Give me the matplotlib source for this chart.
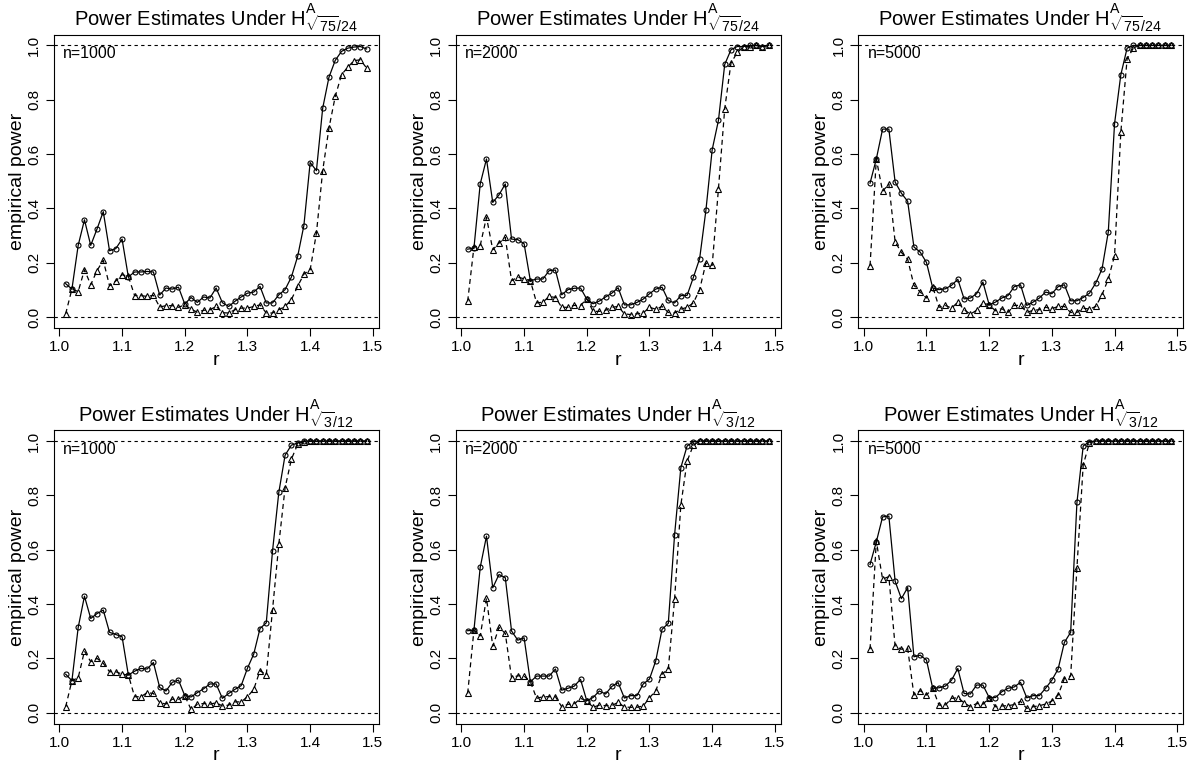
import numpy as np
import matplotlib
matplotlib.use("Agg")
import matplotlib.pyplot as plt

plt.rcParams['font.family'] = ['Liberation Sans', 'DejaVu Sans']
plt.rcParams['mathtext.fontset'] = 'custom'
plt.rcParams['mathtext.rm'] = 'Liberation Sans'
plt.rcParams['mathtext.it'] = 'Liberation Sans'

# data
r = [1.01, 1.02, 1.03, 1.04, 1.05, 1.06, 1.07, 1.08, 1.09, 1.10,
     1.11, 1.12, 1.13, 1.14, 1.15, 1.16, 1.17, 1.18, 1.19, 1.20,
     1.21, 1.22, 1.23, 1.24, 1.25, 1.26, 1.27, 1.28, 1.29, 1.30,
     1.31, 1.32, 1.33, 1.34, 1.35, 1.36, 1.37, 1.38, 1.39, 1.40,
     1.41, 1.42, 1.43, 1.44, 1.45, 1.46, 1.47, 1.48, 1.49]

top_circ_1000 = [0.123, 0.103, 0.264, 0.358, 0.264, 0.324, 0.388, 0.244, 0.252, 0.287,
                 0.148, 0.166, 0.166, 0.168, 0.166, 0.081, 0.107, 0.103, 0.110, 0.048,
                 0.072, 0.054, 0.074, 0.070, 0.107, 0.053, 0.039, 0.058, 0.074, 0.088,
                 0.092, 0.113, 0.052, 0.052, 0.082, 0.101, 0.147, 0.223, 0.337, 0.569,
                 0.539, 0.769, 0.883, 0.945, 0.978, 0.990, 0.994, 0.996, 0.987]
top_tri_1000 = [0.012, 0.103, 0.094, 0.174, 0.119, 0.171, 0.209, 0.115, 0.133, 0.156,
                0.150, 0.079, 0.079, 0.076, 0.080, 0.037, 0.042, 0.042, 0.036, 0.045,
                0.029, 0.018, 0.025, 0.026, 0.040, 0.016, 0.015, 0.027, 0.033, 0.033,
                0.039, 0.045, 0.015, 0.015, 0.027, 0.039, 0.064, 0.113, 0.158, 0.174,
                0.309, 0.539, 0.696, 0.812, 0.892, 0.920, 0.944, 0.947, 0.917]

top_circ_2000 = [0.250, 0.254, 0.490, 0.582, 0.422, 0.450, 0.490, 0.287, 0.285, 0.270,
                 0.134, 0.140, 0.140, 0.171, 0.173, 0.082, 0.101, 0.106, 0.107, 0.066,
                 0.049, 0.059, 0.074, 0.088, 0.108, 0.045, 0.045, 0.054, 0.066, 0.086,
                 0.103, 0.110, 0.061, 0.052, 0.079, 0.080, 0.146, 0.215, 0.393, 0.616,
                 0.724, 0.930, 0.984, 0.996, 0.996, 1.0, 1.0, 0.996, 1.0]
top_tri_2000 = [0.058, 0.258, 0.263, 0.368, 0.248, 0.272, 0.293, 0.134, 0.147, 0.141,
                0.134, 0.052, 0.055, 0.076, 0.072, 0.036, 0.036, 0.043, 0.042, 0.068,
                0.021, 0.021, 0.025, 0.036, 0.039, 0.012, 0.009, 0.012, 0.015, 0.036,
                0.029, 0.039, 0.017, 0.015, 0.029, 0.036, 0.052, 0.101, 0.199, 0.190,
                0.472, 0.767, 0.935, 0.974, 0.994, 0.996, 1.0, 0.996, 1.0]

top_circ_5000 = [0.493, 0.582, 0.692, 0.692, 0.497, 0.456, 0.426, 0.258, 0.239, 0.201,
                 0.107, 0.101, 0.104, 0.117, 0.139, 0.067, 0.070, 0.086, 0.129, 0.045,
                 0.055, 0.070, 0.079, 0.112, 0.119, 0.043, 0.055, 0.070, 0.092, 0.086,
                 0.112, 0.119, 0.060, 0.060, 0.072, 0.088, 0.125, 0.177, 0.313, 0.712,
                 0.892, 0.990, 1.0, 1.0, 1.0, 1.0, 1.0, 1.0, 1.0]
top_tri_5000 = [0.189, 0.582, 0.463, 0.490, 0.277, 0.238, 0.213, 0.117, 0.092, 0.070,
                0.112, 0.036, 0.043, 0.033, 0.055, 0.027, 0.011, 0.025, 0.052, 0.045,
                0.023, 0.031, 0.017, 0.043, 0.043, 0.017, 0.025, 0.027, 0.036, 0.031,
                0.039, 0.039, 0.017, 0.017, 0.033, 0.029, 0.039, 0.082, 0.140, 0.226,
                0.680, 0.950, 0.990, 1.0, 1.0, 1.0, 1.0, 1.0, 1.0]

bot_circ_1000 = [0.142, 0.118, 0.314, 0.429, 0.347, 0.365, 0.378, 0.296, 0.288, 0.280,
                 0.139, 0.153, 0.163, 0.161, 0.185, 0.093, 0.080, 0.112, 0.120, 0.063,
                 0.058, 0.074, 0.088, 0.106, 0.106, 0.053, 0.071, 0.086, 0.100, 0.164,
                 0.216, 0.310, 0.331, 0.596, 0.811, 0.948, 0.985, 0.993, 1.0, 1.0,
                 1.0, 1.0, 1.0, 1.0, 1.0, 1.0, 1.0, 1.0, 1.0]
bot_tri_1000 = [0.022, 0.118, 0.129, 0.227, 0.188, 0.200, 0.182, 0.151, 0.151, 0.142,
                0.139, 0.059, 0.059, 0.074, 0.071, 0.037, 0.032, 0.050, 0.049, 0.063,
                0.012, 0.031, 0.034, 0.031, 0.037, 0.025, 0.028, 0.040, 0.040, 0.059,
                0.086, 0.155, 0.139, 0.380, 0.620, 0.828, 0.933, 0.988, 0.998, 1.0,
                1.0, 1.0, 1.0, 1.0, 1.0, 1.0, 1.0, 1.0, 1.0]

bot_circ_2000 = [0.302, 0.304, 0.535, 0.650, 0.460, 0.509, 0.497, 0.301, 0.267, 0.276,
                 0.114, 0.135, 0.135, 0.135, 0.161, 0.083, 0.090, 0.098, 0.123, 0.044,
                 0.056, 0.080, 0.069, 0.097, 0.111, 0.054, 0.063, 0.063, 0.106, 0.124,
                 0.191, 0.307, 0.329, 0.654, 0.902, 0.982, 0.998, 1.0, 1.0, 1.0,
                 1.0, 1.0, 1.0, 1.0, 1.0, 1.0, 1.0, 1.0, 1.0]
bot_tri_2000 = [0.071, 0.304, 0.283, 0.422, 0.245, 0.314, 0.292, 0.129, 0.136, 0.135,
                0.114, 0.053, 0.059, 0.059, 0.059, 0.022, 0.031, 0.032, 0.053, 0.044,
                0.020, 0.028, 0.026, 0.027, 0.038, 0.021, 0.020, 0.020, 0.025, 0.055,
                0.081, 0.142, 0.161, 0.417, 0.764, 0.926, 0.985, 1.0, 1.0, 1.0,
                1.0, 1.0, 1.0, 1.0, 1.0, 1.0, 1.0, 1.0, 1.0]

bot_circ_5000 = [0.546, 0.629, 0.721, 0.724, 0.484, 0.420, 0.461, 0.206, 0.212, 0.194,
                 0.090, 0.092, 0.098, 0.120, 0.163, 0.071, 0.069, 0.102, 0.102, 0.056,
                 0.056, 0.077, 0.090, 0.095, 0.112, 0.055, 0.063, 0.063, 0.090, 0.120,
                 0.161, 0.259, 0.296, 0.774, 0.982, 0.998, 1.0, 1.0, 1.0, 1.0,
                 1.0, 1.0, 1.0, 1.0, 1.0, 1.0, 1.0, 1.0, 1.0]
bot_tri_5000 = [0.234, 0.632, 0.492, 0.501, 0.245, 0.234, 0.237, 0.065, 0.081, 0.065,
                0.090, 0.028, 0.028, 0.053, 0.055, 0.037, 0.022, 0.034, 0.031, 0.055,
                0.022, 0.025, 0.026, 0.030, 0.042, 0.016, 0.022, 0.026, 0.032, 0.043,
                0.065, 0.126, 0.136, 0.534, 0.912, 0.994, 1.0, 1.0, 1.0, 1.0,
                1.0, 1.0, 1.0, 1.0, 1.0, 1.0, 1.0, 1.0, 1.0]

sample_sizes = ["n=1000", "n=2000", "n=5000"]
title_top = r"Power Estimates Under H$^{\mathregular{A}}_{\sqrt{75}/24}$"
title_bot = r"Power Estimates Under H$^{\mathregular{A}}_{\sqrt{3}/12}$"

panels = [
    (title_top, sample_sizes[0], top_circ_1000, top_tri_1000),
    (title_top, sample_sizes[1], top_circ_2000, top_tri_2000),
    (title_top, sample_sizes[2], top_circ_5000, top_tri_5000),
    (title_bot, sample_sizes[0], bot_circ_1000, bot_tri_1000),
    (title_bot, sample_sizes[1], bot_circ_2000, bot_tri_2000),
    (title_bot, sample_sizes[2], bot_circ_5000, bot_tri_5000),
]

fig = plt.figure(figsize=(11.94, 7.68), dpi=100)
lefts = [0.0449, 0.3816, 0.7186]
bottoms = [0.573, 0.0578]
w, h = 0.2722, 0.382

for i, (title, ntxt, circ, tri) in enumerate(panels):
    ax = fig.add_axes([lefts[i % 3], bottoms[i // 3], w, h])
    ax.axhline(0, color='black', lw=0.8, ls=(0, (3, 3)))
    ax.axhline(1, color='black', lw=0.8, ls=(0, (3, 3)))
    ax.plot(r, circ, color='black', lw=0.9, marker='o', ms=3.6,
            mfc='none', mec='black', mew=0.8)
    ax.plot(r, tri, color='black', lw=0.9, ls=(0, (4, 3)), marker='^', ms=4.2,
            mfc='none', mec='black', mew=0.8)
    ax.set_xlim(0.9908, 1.5092)
    ax.set_ylim(-0.04, 1.04)
    ax.set_xticks([1.0, 1.1, 1.2, 1.3, 1.4, 1.5])
    ax.set_xticklabels(["1.0", "1.1", "1.2", "1.3", "1.4", "1.5"])
    ax.set_yticks([0.0, 0.2, 0.4, 0.6, 0.8, 1.0])
    ax.set_yticklabels(["0.0", "0.2", "0.4", "0.6", "0.8", "1.0"],
                       rotation=90, va='center')
    ax.tick_params(direction='out', length=6, width=0.8, labelsize=11, pad=3)
    for s in ax.spines.values():
        s.set_linewidth(0.8)
    ax.set_title(title, fontsize=14.5, pad=6)
    ax.set_xlabel("r", fontsize=14, labelpad=-2)
    ax.set_ylabel("empirical power", fontsize=14, labelpad=1)
    ax.text(0.03, 0.935, ntxt, transform=ax.transAxes, fontsize=11.5,
            ha='left', va='center')

fig.savefig("out.png", dpi=100)
